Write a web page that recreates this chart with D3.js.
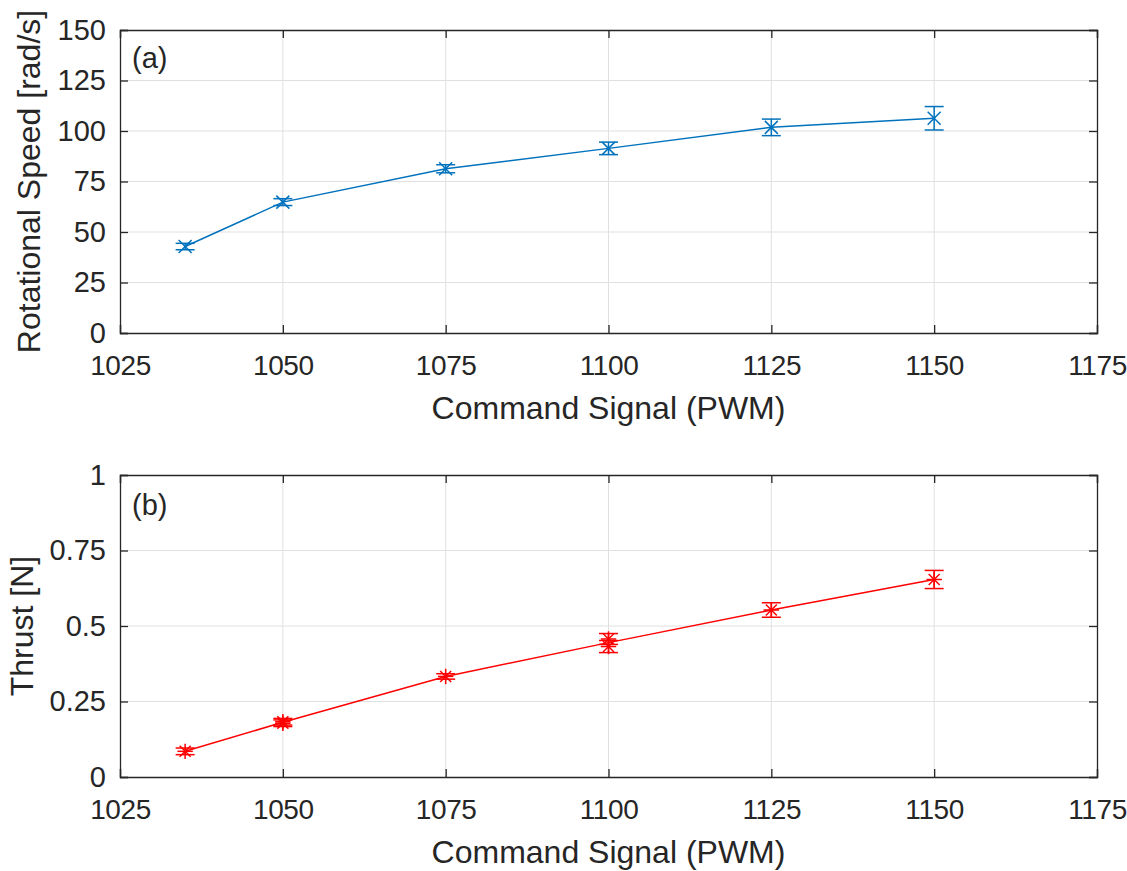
<!DOCTYPE html>
<html>
<head>
<meta charset="utf-8">
<script src="https://cdn.jsdelivr.net/npm/d3@7"></script>
<style>
  body { margin: 0; background: #fff; }
  text { font-family: "Liberation Sans", Arial, sans-serif; fill: #262626; }
</style>
</head>
<body>
<div class="chart"></div>
<script>
// Data
var pwm = [1035, 1050, 1075, 1100, 1125, 1150];
var xTicks = [1025, 1050, 1075, 1100, 1125, 1150, 1175];

// (a) rotational speed
var speedMean = [42.8, 64.8, 81.3, 91.4, 101.8, 106.3];
var speedPts = [1035, 1050, 1075, 1100, 1125, 1150];
var speedVal = [42.8, 64.8, 81.3, 91.4, 101.8, 106.3];
var speedErr = [1.6, 1.7, 2.0, 3.1, 4.1, 5.8];
var speedTicks = [0, 25, 50, 75, 100, 125, 150];

// (b) thrust
var thrustMean = [0.085, 0.181, 0.333, 0.445, 0.553, 0.654];
var thrustPts = [1035, 1050, 1050, 1075, 1100, 1100, 1125, 1150];
var thrustVal = [0.085, 0.183, 0.178, 0.333, 0.457, 0.432, 0.553, 0.654];
var thrustErr = [0.011, 0.011, 0.011, 0.009, 0.018, 0.02, 0.024, 0.03];
var thrustTicks = [0, 0.25, 0.5, 0.75, 1];

var svgWidth = 1127;
var svgHeight = 871;

var svg = d3.select(".chart")
  .append("svg")
  .attr("width", svgWidth)
  .attr("height", svgHeight);

function drawPanel(p) {
  var x = d3.scaleLinear().domain([1025, 1175]).range([p.left, p.right]);
  var y = d3.scaleLinear().domain(p.yDomain).range([p.bottom, p.top]);
  var g = svg.append("g");

  // grid
  g.selectAll(".gx").data(xTicks.slice(1, -1)).enter().append("line")
    .attr("x1", d => x(d)).attr("x2", d => x(d))
    .attr("y1", p.top).attr("y2", p.bottom)
    .attr("stroke", "#e0e0e0").attr("stroke-width", 1);
  g.selectAll(".gy").data(p.yTicks.slice(1, -1)).enter().append("line")
    .attr("y1", d => y(d)).attr("y2", d => y(d))
    .attr("x1", p.left).attr("x2", p.right)
    .attr("stroke", "#e0e0e0").attr("stroke-width", 1);

  // axes, ticks inward on all four sides
  var bottomAxis = d3.axisBottom(x).tickValues(xTicks).tickSize(-8).tickPadding(22)
    .tickFormat(d3.format("d"));
  var topAxis = d3.axisTop(x).tickValues(xTicks).tickSize(-8).tickFormat("");
  var leftAxis = d3.axisLeft(y).tickValues(p.yTicks).tickSize(-8).tickPadding(14)
    .tickFormat(p.fmt);
  var rightAxis = d3.axisRight(y).tickValues(p.yTicks).tickSize(-8).tickFormat("");

  [[bottomAxis, `translate(0,${p.bottom})`], [topAxis, `translate(0,${p.top})`],
   [leftAxis, `translate(${p.left},0)`], [rightAxis, `translate(${p.right},0)`]]
    .forEach((a, k) => {
      var ax = g.append("g").attr("transform", a[1]).call(a[0]);
      ax.select(".domain").attr("stroke", "#262626").attr("stroke-width", 1.3);
      ax.selectAll(".tick line").attr("stroke", "#262626").attr("stroke-width", 1.3);
      ax.selectAll(".tick text").attr("font-size", k === 0 ? 28 : 29).attr("fill", "#262626")
        .attr("letter-spacing", k === 0 ? -0.4 : 0)
        .style("font-family", "'Liberation Sans', Arial, sans-serif");
    });

  // line through the means
  var line = d3.line().x((d, i) => x(pwm[i])).y(d => y(d));
  g.append("path").datum(p.mean)
    .attr("d", line)
    .attr("fill", "none")
    .attr("stroke", p.color)
    .attr("stroke-width", 1.5);

  // error bars + markers
  var capW = 9.5;
  p.pts.forEach((px, i) => {
    var cx = x(px), v = p.vals[i], e = p.err[i];
    var eb = g.append("g").attr("stroke", p.color).attr("stroke-width", 1.5).attr("fill", "none");
    eb.append("line").attr("x1", cx).attr("x2", cx).attr("y1", y(v - e)).attr("y2", y(v + e));
    eb.append("line").attr("x1", cx - capW).attr("x2", cx + capW).attr("y1", y(v - e)).attr("y2", y(v - e));
    eb.append("line").attr("x1", cx - capW).attr("x2", cx + capW).attr("y1", y(v + e)).attr("y2", y(v + e));

    var cy = y(v), s = p.star ? 5.5 : 6.5;
    var mk = g.append("g").attr("stroke", p.color).attr("stroke-width", 1.5);
    mk.append("line").attr("x1", cx - s).attr("x2", cx + s).attr("y1", cy - s).attr("y2", cy + s);
    mk.append("line").attr("x1", cx - s).attr("x2", cx + s).attr("y1", cy + s).attr("y2", cy - s);
    if (p.star) {
      mk.append("line").attr("x1", cx - s * 1.4).attr("x2", cx + s * 1.4).attr("y1", cy).attr("y2", cy);
      mk.append("line").attr("x1", cx).attr("x2", cx).attr("y1", cy - s * 1.4).attr("y2", cy + s * 1.4);
    }
  });

  // panel tag
  g.append("text").attr("x", p.left + 12).attr("y", p.top + p.tagDy)
    .attr("font-size", 29).text(p.tag);

  // axis titles
  g.append("text")
    .attr("transform", `translate(${p.yLabelX}, ${(p.top + p.bottom) / 2}) rotate(-90)`)
    .attr("text-anchor", "middle")
    .attr("font-size", 32)
    .text(p.yLabel);

  g.append("text")
    .attr("x", (p.left + p.right) / 2)
    .attr("y", p.bottom + 86)
    .attr("text-anchor", "middle")
    .attr("font-size", 32)
    .text("Command Signal (PWM)");
}

drawPanel({
  left: 120, right: 1097, top: 30, bottom: 333,
  yDomain: [0, 150], yTicks: speedTicks, fmt: d3.format("d"),
  mean: speedMean, pts: speedPts, vals: speedVal, err: speedErr,
  color: "#0072BD", star: false, tag: "(a)", tagDy: 38,
  yLabel: "Rotational Speed [rad/s]", yLabelX: 40
});

drawPanel({
  left: 120, right: 1097, top: 475, bottom: 777,
  yDomain: [0, 1], yTicks: thrustTicks, fmt: d => String(d),
  mean: thrustMean, pts: thrustPts, vals: thrustVal, err: thrustErr,
  color: "#FF0000", star: true, tag: "(b)", tagDy: 40,
  yLabel: "Thrust [N]", yLabelX: 33
});
</script>
</body>
</html>
